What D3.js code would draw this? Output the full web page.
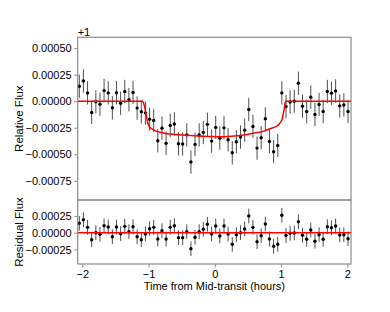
<!DOCTYPE html>
<html>
<head>
<meta charset="utf-8">
<script src="https://cdn.jsdelivr.net/npm/d3@7"></script>
<style>
  body { margin: 0; background: #fff; }
  text { font-family: "Liberation Sans", Arial, sans-serif; }
</style>
</head>
<body>
<svg id="chart"></svg>
<script>
// data (flux values in units of 1e-4, offset from 1)
const times = [
  -2.045, -1.983, -1.920, -1.858, -1.795, -1.733, -1.671, -1.608, -1.546, -1.484,
  -1.421, -1.359, -1.296, -1.234, -1.172, -1.109, -1.047, -0.984, -0.922, -0.860,
  -0.797, -0.735, -0.672, -0.610, -0.548, -0.485, -0.423, -0.360, -0.298, -0.236,
  -0.173, -0.111, -0.048, 0.014, 0.076, 0.139, 0.201, 0.264, 0.326, 0.388,
  0.451, 0.513, 0.576, 0.638, 0.700, 0.763, 0.825, 0.888, 0.950, 1.012,
  1.075, 1.137, 1.200, 1.262, 1.324, 1.387, 1.449, 1.512, 1.574, 1.636,
  1.699, 1.761, 1.824, 1.886, 1.948, 2.011
];
const flux = [
  1.41, 1.91, 0.78, -1.06, -0.06, -0.28, 1.00, 0.78, -0.62, 0.80,
  -0.19, 0.91, 0.14, 0.82, -0.65, -1.00, -1.10, -1.70, -1.82, -3.73,
  -2.54, -3.97, -2.29, -2.15, -4.01, -4.03, -3.17, -5.73, -4.07, -3.18,
  -2.95, -2.18, -3.76, -2.47, -3.48, -2.51, -3.63, -4.86, -3.82, -3.38,
  -2.73, -0.78, -2.38, -4.42, -3.45, -1.66, -3.79, -4.76, -4.17, 0.78,
  -0.50, -0.08, 0.00, 1.69, -0.47, -0.97, 0.38, -1.25, -0.31, -0.97,
  0.91, 0.75, 0.97, -0.44, -0.35, -0.97
];
const residuals = [
  1.40, 1.93, 0.80, -1.04, 0.00, -0.24, 1.04, 0.85, -0.60, 0.85,
  -0.15, 0.95, 0.15, 0.89, -0.60, -1.04, -0.19, 0.60, 0.80, -0.94,
  0.30, -0.94, 0.80, 1.04, -0.74, -0.74, 0.15, -2.38, -0.68, 0.15,
  0.51, 1.25, -0.19, 1.00, -0.49, 1.00, -0.19, -1.73, -0.30, 0.00,
  0.55, 2.49, 0.80, -1.34, -0.45, 1.29, -0.94, -2.02, -1.73, 2.59,
  -0.42, -0.09, -0.04, 1.64, -0.39, -0.98, 0.40, -1.28, -0.30, -0.98,
  0.89, 0.74, 1.00, -0.34, -0.30, -0.89
];
const errBar = 1.1;

// transit model curve
const modelTimes = [
  -2.07, -1.09, -1.075, -1.06, -1.045, -1.03, -1.015, -1.0, -0.985, -0.95,
  -0.89, -0.79, -0.74, -0.6, -0.435, -0.2, 0.04, 0.25, 0.49, 0.6,
  0.743, 0.82, 0.88, 0.943, 0.97, 0.995, 1.014, 1.03, 1.045, 1.064,
  1.075, 2.06
];
const modelFlux = [
  0, 0, -0.2, -0.5, -0.95, -1.45, -1.95, -2.25, -2.42, -2.6,
  -2.8, -2.97, -3.05, -3.14, -3.22, -3.31, -3.35, -3.3, -3.13, -3.0,
  -2.82, -2.62, -2.5, -2.32, -2.18, -1.95, -1.75, -1.3, -0.85, -0.1,
  0, 0
];

const topTicks = [0.0005, 0.00025, 0, -0.00025, -0.0005, -0.00075];
const resTicks = [0.00025, 0, -0.00025];
const xTicks = [-2, -1, 0, 1, 2];

// set up constants
const width = 390;
const height = 312;
const left = 77.7, right = 351;
const topPanel = { top: 37.3, bottom: 200 };
const resPanel = { top: 200, bottom: 264 };
const frameColor = '#8c8c8c';

const svg = d3.select('#chart')
  .attr('width', width)
  .attr('height', height);

// scales
const xScale = d3.scaleLinear()
  .domain([-2.069, 2.056])
  .range([left, right]);

const yTop = d3.scaleLinear()
  .domain([-0.000931, 0.000602])
  .range([topPanel.bottom, topPanel.top]);

const yRes = d3.scaleLinear()
  .domain([-0.000466, 0.000487])
  .range([resPanel.bottom, resPanel.top]);

const fmt = d3.format('.5f');

function styleAxis(g) {
  g.select('.domain').remove();
  g.selectAll('.tick line').attr('stroke', frameColor);
  g.selectAll('.tick text')
    .attr('fill', '#000')
    .style('font-size', '11px')
    .style('font-family', '"Liberation Sans", Arial, sans-serif');
}

// y axes
svg.append('g')
  .attr('transform', `translate(${left},0)`)
  .call(d3.axisLeft(yTop).tickValues(topTicks).tickFormat(fmt).tickSize(3.5).tickPadding(2.5))
  .call(styleAxis);

svg.append('g')
  .attr('transform', `translate(${left},0)`)
  .call(d3.axisLeft(yRes).tickValues(resTicks).tickFormat(fmt).tickSize(3.5).tickPadding(2.5))
  .call(styleAxis);

// x axis on the residual panel
svg.append('g')
  .attr('transform', `translate(0,${resPanel.bottom})`)
  .call(d3.axisBottom(xScale).tickValues(xTicks).tickFormat(d3.format('d')).tickSize(3.5).tickPadding(2.5))
  .call(styleAxis);

// draw a panel: error bars, points, model
function drawPanel(yScale, values, modelT, modelV) {
  const g = svg.append('g');
  const pts = times.map((t, i) => ({ t: t, v: values[i] * 1e-4 }));

  g.selectAll('line.err')
    .data(pts)
    .enter()
    .append('line')
    .attr('class', 'err')
    .attr('x1', d => xScale(d.t))
    .attr('x2', d => xScale(d.t))
    .attr('y1', d => yScale(d.v - errBar * 1e-4))
    .attr('y2', d => yScale(d.v + errBar * 1e-4))
    .attr('stroke', '#505050')
    .attr('stroke-width', 1);

  g.selectAll('circle')
    .data(pts)
    .enter()
    .append('circle')
    .attr('cx', d => xScale(d.t))
    .attr('cy', d => yScale(d.v))
    .attr('r', 1.7)
    .attr('fill', '#000');

  const line = d3.line()
    .x(d => xScale(d[0]))
    .y(d => yScale(d[1] * 1e-4))
    .curve(d3.curveMonotoneX);

  g.append('path')
    .datum(modelT.map((t, i) => [t, modelV[i]]))
    .attr('d', line)
    .attr('fill', 'none')
    .attr('stroke', '#ff0000')
    .attr('stroke-width', 1.5);
}

drawPanel(yTop, flux, modelTimes, modelFlux);
drawPanel(yRes, residuals, [-2.07, 2.06], [0, 0]);

// frames
[topPanel, resPanel].forEach(p => {
  svg.append('rect')
    .attr('x', left)
    .attr('y', p.top)
    .attr('width', right - left)
    .attr('height', p.bottom - p.top)
    .attr('fill', 'none')
    .attr('stroke', frameColor)
    .attr('stroke-width', 1.2);
});

// offset text
svg.append('text')
  .attr('x', left)
  .attr('y', 35.5)
  .style('font-size', '11px')
  .text('+1');

// axis labels
svg.append('text')
  .attr('transform', `translate(22.5,${(topPanel.top + topPanel.bottom) / 2}) rotate(-90)`)
  .attr('text-anchor', 'middle')
  .style('font-size', '11.5px')
  .text('Relative Flux');

svg.append('text')
  .attr('transform', `translate(22.5,${(resPanel.top + resPanel.bottom) / 2}) rotate(-90)`)
  .attr('text-anchor', 'middle')
  .style('font-size', '11.5px')
  .text('Residual Flux');

svg.append('text')
  .attr('x', (left + right) / 2)
  .attr('y', 290)
  .attr('text-anchor', 'middle')
  .style('font-size', '11px')
  .text('Time from Mid-transit (hours)');
</script>
</body>
</html>
